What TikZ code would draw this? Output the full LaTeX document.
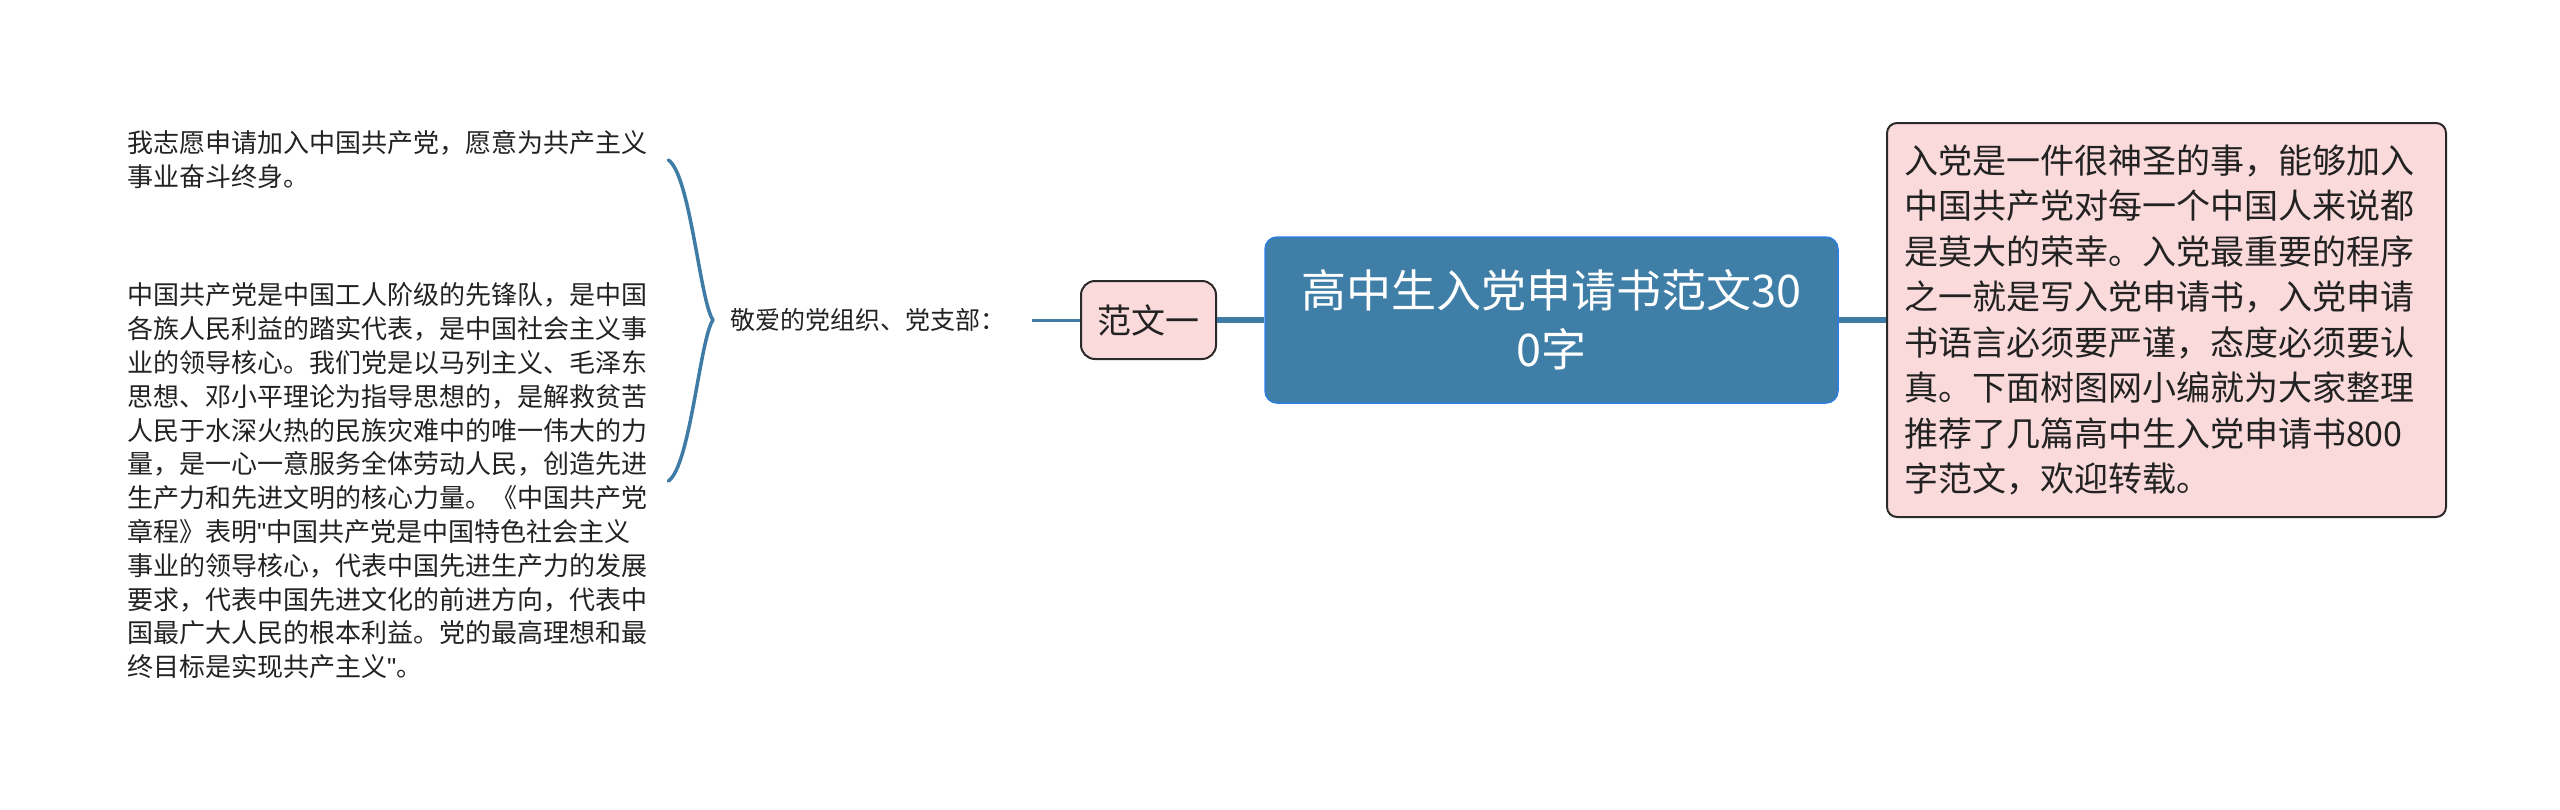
\documentclass[tikz,border=0pt]{standalone}
\usepackage{fontspec}
\setmainfont{Noto Sans CJK SC}
\newfontfamily\quotefont{Liberation Sans}
\newcommand{\sq}{{\quotefont\symbol{34}}}
\definecolor{lineblue}{HTML}{3E7BA5}
\definecolor{centerfill}{HTML}{3F7EA6}
\definecolor{centerborder}{HTML}{2F7FE0}
\definecolor{pinkfill}{HTML}{FADADB}
\definecolor{darkborder}{HTML}{2A2A2A}
\definecolor{bodytext}{HTML}{222222}
\tikzset{
  centralbox/.style={draw=centerborder, fill=centerfill, line width=1.5pt, rounded corners=12pt,
    minimum width=573pt, minimum height=166pt, text=white, align=center, inner sep=0pt,
    font=\fontsize{45}{59}\selectfont},
  pinkbox/.style={draw=darkborder, fill=pinkfill, line width=2pt, text=bodytext},
  plaintext/.style={inner sep=0pt, text=bodytext},
  thickconn/.style={draw=lineblue, line width=5.5pt},
  thinconn/.style={draw=lineblue, line width=3pt},
  braceconn/.style={draw=lineblue, line width=3.5pt, line cap=round},
}
\begin{document}
\begin{tikzpicture}[x=1pt,y=-1pt]
\useasboundingbox (0,0) rectangle (2560,809);

\node[centralbox] (c) at (1551.5,320) {高中生入党申请书范文30\\0字};

\node[pinkbox, rounded corners=10pt, text width=525pt, align=left, inner xsep=17pt, inner ysep=0pt,
  minimum height=394pt, font=\fontsize{34}{45.5}\selectfont] (r) at (2166.5,320)
  {入党是一件很神圣的事，能够加入\\中国共产党对每一个中国人来说都\\是莫大的荣幸。入党最重要的程序\\之一就是写入党申请书，入党申请\\书语言必须要严谨，态度必须要认\\真。下面树图网小编就为大家整理\\推荐了几篇高中生入党申请书800\\字范文，欢迎转载。};

\node[pinkbox, rounded corners=14pt, minimum width=135pt, minimum height=78pt, inner sep=0pt,
  font=\fontsize{34}{40}\selectfont] (f) at (1148.5,320) {范文一};

\node[plaintext, anchor=west, font=\fontsize{25}{30}\selectfont] (j) at (730,320) {敬爱的党组织、党支部：};

\node[plaintext, anchor=west, text width=525pt, align=left, font=\fontsize{26}{33.8}\selectfont] (a1) at (127,160)
  {我志愿申请加入中国共产党，愿意为共产主义\\事业奋斗终身。};

\node[plaintext, anchor=west, text width=525pt, align=left, font=\fontsize{26}{33.8}\selectfont] (a2) at (127,481)
  {中国共产党是中国工人阶级的先锋队，是中国\\各族人民利益的踏实代表，是中国社会主义事\\业的领导核心。我们党是以马列主义、毛泽东\\思想、邓小平理论为指导思想的，是解救贫苦\\人民于水深火热的民族灾难中的唯一伟大的力\\量，是一心一意服务全体劳动人民，创造先进\\生产力和先进文明的核心力量。《中国共产党\\章程》表明\sq 中国共产党是中国特色社会主义\\事业的领导核心，代表中国先进生产力的发展\\要求，代表中国先进文化的前进方向，代表中\\国最广大人民的根本利益。党的最高理想和最\\终目标是实现共产主义\sq 。};

\coordinate (t) at ([xshift=-17pt]j.west);
\coordinate (e1) at ([xshift=16pt]a1.east);
\coordinate (e2) at ([xshift=16pt]a2.east);
\coordinate (js) at ([xshift=27pt]j.east);

\draw[braceconn] (e1) .. controls ([xshift=22pt,yshift=-15pt]e1) and ([xshift=-13pt,yshift=18pt]t) .. (t);
\draw[braceconn] (e2) .. controls ([xshift=22pt,yshift=15pt]e2) and ([xshift=-13pt,yshift=-18pt]t) .. (t);

\draw[thinconn] (js) -- (f.west);
\draw[thickconn] (f.east) -- (c.west);
\draw[thickconn] (c.east) -- (r.west);
\end{tikzpicture}
\end{document}
